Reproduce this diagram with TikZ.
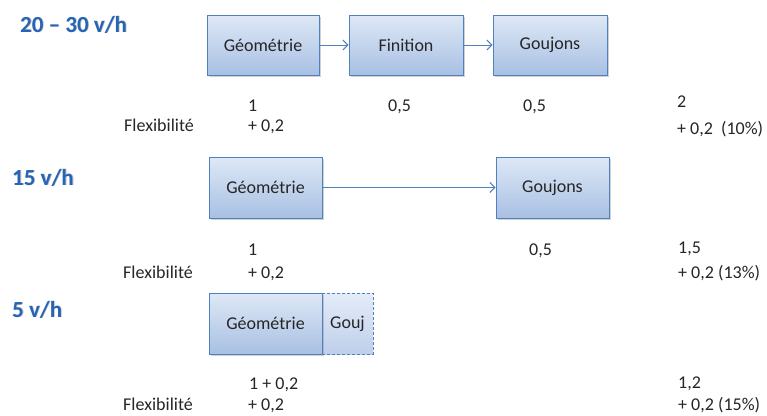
\documentclass[tikz,border=0pt]{standalone}
\usepackage{fontspec}
\setmainfont{Carlito}
\usetikzlibrary{arrows.meta,shadows}
\definecolor{boxtop}{RGB}{222,232,246}
\definecolor{boxbot}{RGB}{168,192,227}
\definecolor{gtop}{RGB}{228,236,248}
\definecolor{gbot}{RGB}{190,207,235}
\definecolor{boxline}{RGB}{79,129,189}
\definecolor{titleblue}{RGB}{38,100,184}
\definecolor{txt}{RGB}{38,38,38}
\begin{document}
\begin{tikzpicture}[x=1pt,y=-1pt,
  stepbox/.style={draw=boxline,line width=1pt,top color=boxtop,bottom color=boxbot,
    drop shadow={shadow xshift=1.5pt,shadow yshift=-1.5pt,opacity=0.35},
    font=\fontsize{18}{20}\selectfont,text=txt,inner sep=0pt},
  dashbox/.style={draw=boxline,line width=1pt,dashed,dash pattern=on 3pt off 2pt,top color=gtop,bottom color=gbot,
    font=\fontsize{18}{20}\selectfont,text=txt,inner sep=0pt},
  lbl/.style={anchor=base west,inner sep=0pt,font=\fontsize{18}{20}\selectfont,text=txt},
  ttl/.style={anchor=base west,inner sep=0pt,font=\fontsize{23}{25}\selectfont\bfseries,text=titleblue},
  ttlsh/.style={anchor=base west,inner sep=0pt,font=\fontsize{23}{25}\selectfont\bfseries,text=black!25},
  flow/.style={draw=boxline,line width=1pt,-{Straight Barb[length=5pt,width=10pt,line width=1pt]}}]
\useasboundingbox (0,0) rectangle (767,415);
\fill[white] (0,0) rectangle (767,415);

% titles
\node[ttlsh] (t1s) at (20.8,32.8) {20 -- 30 v/h};
\node[ttl] (t1) at (20,32) {20 -- 30 v/h};
\node[ttlsh] (t2s) at (12.8,185.8) {15 v/h};
\node[ttl] (t2) at (12,185) {15 v/h};
\node[ttlsh] (t3s) at (12.8,317.8) {5 v/h};
\node[ttl] (t3) at (12,317) {5 v/h};

% row 1
\node[stepbox,minimum width=112pt,minimum height=60pt] (g1) at (263,45) {Géométrie};
\node[stepbox,minimum width=114pt,minimum height=60pt] (f1) at (406,45) {Finition};
\node[stepbox,minimum width=114pt,minimum height=60pt] (j1) at (550,45) {Goujons};
\draw[flow] (g1) -- (f1);
\draw[flow] (f1) -- (j1);
\node[lbl] (a1) at (248,111) {1};
\node[lbl] (b1) at (388,111) {0,5};
\node[lbl] (c1) at (523,111) {0,5};
\node[lbl] (d1) at (677,107) {2};
\node[lbl] (fx1) at (124,131) {Flexibilité};
\node[lbl] (p1) at (248,131) {+ 0,2};
\node[lbl] (q1) at (677,134) {+ 0,2\ \ (10\%)};

% row 2
\node[stepbox,minimum width=113pt,minimum height=61pt] (g2) at (265.5,187.5) {Géométrie};
\node[stepbox,minimum width=113pt,minimum height=61pt] (j2) at (552.5,187.5) {Goujons};
\draw[flow] (g2) -- (j2);
\node[lbl] (a2) at (248,255) {1};
\node[lbl] (b2) at (529,255) {0,5};
\node[lbl] (d2) at (678,253) {1,5};
\node[lbl] (fx2) at (123,278) {Flexibilité};
\node[lbl] (p2) at (248,278) {+ 0,2};
\node[lbl] (q2) at (678,278) {+ 0,2 (13\%)};

% row 3
\node[dashbox,minimum width=51pt,minimum height=61pt] (j3) at (347.5,323.5) {Gouj};
\node[stepbox,minimum width=113pt,minimum height=61pt] (g3) at (265.5,323.5) {Géométrie};
\node[lbl] (a3) at (249,389) {1 + 0,2};
\node[lbl] (d3) at (678,388) {1,2};
\node[lbl] (fx3) at (123,410.5) {Flexibilité};
\node[lbl] (p3) at (248,410.5) {+ 0,2};
\node[lbl] (q3) at (678,410.5) {+ 0,2 (15\%)};
\end{tikzpicture}
\end{document}
